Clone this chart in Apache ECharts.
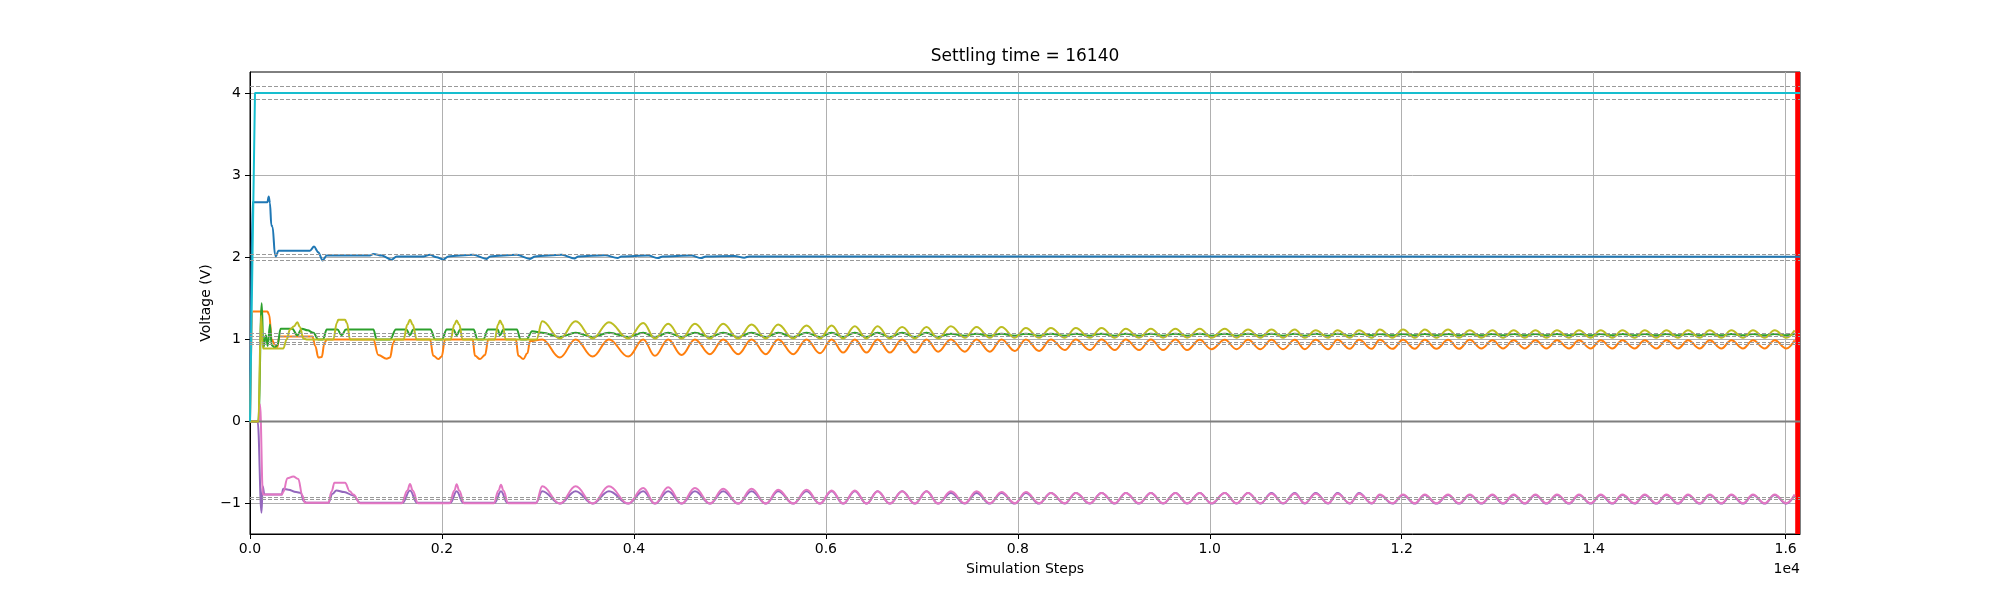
<!DOCTYPE html>
<html>
<head>
<meta charset="utf-8">
<title>Settling time</title>
<script src="https://cdn.jsdelivr.net/npm/echarts@6/dist/echarts.min.js"></script>
<style>
    html, body { margin: 0; padding: 0; background: #fff; }
    #main { width: 2000px; height: 600px; }
</style>
</head>
<body>
<div id="main"></div>
<script type="text/javascript">
    var FONT = '"DejaVu Sans", sans-serif';

    // axis ticks as drawn
    var xTicks = [0, 2000, 4000, 6000, 8000, 10000, 12000, 14000, 16000];
    var yTicks = [-1, 0, 1, 2, 3, 4];
    var settlingStep = 16140;

    // +/-2% bands round each target (grey dashed)
    var bandLevels = [4.08, 3.92, 2.04, 1.96, 1.08, 1.04, 0.97, 0.935, -0.92, -0.955];

    // start-up transient, read point by point: [step, volts]
    var cyanLine = [[0, 0], [52, 4.0], [16150, 4.0]];
    var grayLine = [[0, 0], [16150, 0]];
    var blueLine = [[0, 0], [25, 2.67], [181, 2.67], [195, 2.74], [208, 2.66], [222, 2.39], [236, 2.37],
        [260, 2.03], [271, 2.01], [295, 2.08], [625, 2.08], [667, 2.13], [712, 2.06], [757, 1.96], [799, 2.02],
        [1250, 2.02], [1285, 2.04], [1372, 2.02], [1476, 1.97], [1528, 2.01], [1806, 2.01], [1876, 2.03],
        [1945, 2.0], [2014, 1.97], [2066, 2.01], [2327, 2.03], [2466, 1.98], [2501, 2.01], [2779, 2.03],
        [2918, 1.98], [2970, 2.01], [3250, 2.03], [3380, 1.985], [3420, 2.01], [3700, 2.025], [3830, 1.99],
        [3870, 2.01], [4150, 2.02], [4250, 1.99], [4300, 2.01], [4600, 2.02], [4700, 1.99], [4750, 2.01],
        [5050, 2.015], [5150, 1.995], [5200, 2.01], [16150, 2.005]];

    var orangeHead = [[0, 0], [30, 1.34], [181, 1.34], [200, 1.30], [226, 1.0], [260, 0.935], [285, 0.906],
        [306, 1.036], [650, 1.036], [680, 0.92], [712, 0.78], [747, 0.785], [775, 0.95], [799, 1.0],
        [1285, 1.0], [1337, 0.81], [1424, 0.765], [1459, 0.78], [1493, 0.955], [1511, 1.0],
        [1876, 1.0], [1910, 0.80], [1962, 0.76], [1997, 0.79], [2032, 1.0], [2320, 1.0], [2344, 0.80],
        [2397, 0.76], [2449, 0.81], [2483, 1.0], [2770, 1.0], [2796, 0.80], [2848, 0.76], [2890, 0.83], [2918, 0.98]];
    var greenHead = [[0, 0], [87, 0], [122, 1.44], [139, 0.90], [165, 1.05], [185, 0.92], [208, 1.18],
        [226, 0.93], [260, 0.90], [285, 0.93], [320, 1.13], [440, 1.13], [493, 1.05], [540, 1.13], [600, 1.11],
        [660, 1.08], [712, 1.0], [760, 1.0], [800, 1.12], [910, 1.12], [955, 1.05], [1000, 1.12], [1285, 1.12],
        [1320, 1.0], [1460, 1.0], [1520, 1.12], [1630, 1.12], [1667, 1.05], [1700, 1.12], [1880, 1.12],
        [1930, 1.0], [2000, 1.0], [2050, 1.12], [2120, 1.12], [2153, 1.05], [2190, 1.12], [2330, 1.12],
        [2370, 1.0], [2430, 1.0], [2480, 1.12], [2580, 1.12], [2605, 1.05], [2640, 1.12], [2780, 1.12],
        [2820, 1.0], [2880, 1.0], [2940, 1.10]];
    var oliveHead = [[0, 0], [87, 0], [115, 1.29], [135, 0.89], [347, 0.89], [382, 1.0], [417, 1.12],
        [460, 1.16], [493, 1.21], [520, 1.15], [556, 1.01], [590, 1.0], [868, 1.0], [905, 1.20], [920, 1.24],
        [990, 1.24], [1010, 1.20], [1042, 1.0], [1600, 1.0], [1640, 1.18], [1667, 1.24], [1695, 1.18],
        [1737, 1.0], [2090, 1.0], [2130, 1.18], [2153, 1.23], [2180, 1.18], [2215, 1.0], [2550, 1.0],
        [2585, 1.18], [2605, 1.23], [2630, 1.18], [2665, 1.0], [2985, 1.0]];
    var pinkHead = [[0, 0], [90, 0], [104, 0.21], [135, -0.89], [330, -0.89], [347, -0.86], [390, -0.69],
        [451, -0.67], [503, -0.70], [545, -0.90], [573, -0.99], [816, -0.99], [851, -0.85], [880, -0.745],
        [990, -0.745], [1040, -0.85], [1077, -0.89], [1146, -0.995], [1580, -0.995], [1640, -0.84],
        [1667, -0.76], [1695, -0.84], [1750, -0.995], [2080, -0.995], [2130, -0.84], [2153, -0.765],
        [2180, -0.84], [2230, -0.995], [2540, -0.995], [2590, -0.84], [2615, -0.77], [2640, -0.84],
        [2690, -0.995], [2980, -0.995]];
    var purpleHead = [[0, 0], [80, 0], [120, -1.11], [132, -0.79], [150, -0.89], [330, -0.89], [347, -0.82],
        [400, -0.83], [480, -0.86], [530, -0.87], [560, -0.97], [590, -0.99], [816, -0.99], [860, -0.88],
        [900, -0.84], [980, -0.86], [1077, -0.90], [1146, -0.99], [1590, -0.99], [1667, -0.84], [1740, -0.99],
        [2090, -0.99], [2153, -0.85], [2220, -0.99], [2550, -0.99], [2615, -0.85], [2680, -0.99], [2980, -0.99]];

    // after ~3000 steps the channels ring together: crest steps and trough steps
    var ringPeakSteps = [3045, 3393, 3740, 4097, 4357, 4636, 4930, 5226, 5503, 5799, 6060, 6302, 6539, 6795,
        7049, 7302, 7570, 7830, 8084, 8344, 8604, 8872, 9125, 9386, 9643, 9896, 10157, 10399, 10643, 10886,
        11104, 11331, 11556, 11771, 12014, 12240, 12483, 12709, 12945, 13167, 13393, 13618, 13847, 14073,
        14299, 14532, 14758, 14983, 15209, 15435, 15660, 15886, 16094];
    var ringDipSteps = [3229, 3570, 3941, 4219, 4497, 4792, 5087, 5375, 5660, 5938, 6180, 6424, 6667, 6927,
        7170, 7448, 7709, 7969, 8222, 8490, 8750, 9011, 9264, 9514, 9764, 10018, 10279, 10528, 10764, 10990,
        11233, 11459, 11688, 11904, 12136, 12362, 12597, 12830, 13056, 13282, 13508, 13743, 13969, 14195,
        14427, 14653, 14879, 15105, 15331, 15556, 15782, 16008];

    var olivePeaks = [1.22, 1.22, 1.21, 1.20, 1.19, 1.19, 1.19, 1.18, 1.18, 1.17, 1.17, 1.16, 1.16, 1.15, 1.15,
        1.16, 1.15, 1.15, 1.14, 1.14, 1.14, 1.14, 1.13, 1.13, 1.13, 1.13, 1.13, 1.12, 1.12, 1.12, 1.11, 1.11, 1.11,
        1.12, 1.12, 1.12, 1.12, 1.11, 1.11, 1.11, 1.11, 1.11, 1.11, 1.11, 1.11, 1.11, 1.11, 1.11, 1.11, 1.11, 1.11, 1.11, 1.11];
    var oliveDips = [1.01, 1.01, 1.01, 1.01, 1.01, 1.01, 1.01, 1.01, 1.01, 1.01, 1.01, 1.01, 1.01, 1.01, 1.01,
        1.02, 1.02, 1.02, 1.02, 1.02, 1.02, 1.02, 1.02, 1.02, 1.02, 1.02, 1.02, 1.02, 1.02, 1.02, 1.02, 1.02,
        1.02, 1.02, 1.02, 1.02, 1.02, 1.02, 1.02, 1.02, 1.02, 1.02, 1.02, 1.02, 1.02, 1.02, 1.02, 1.02, 1.02, 1.02, 1.02, 1.02];

    var orangePeaks = [1.0, 1.0, 1.0, 1.0, 1.0, 1.0, 1.0, 1.0, 1.0, 1.0, 1.0, 1.0, 1.0, 1.0, 1.0,
        1.0, 1.0, 1.0, 1.0, 1.0, 1.0, 1.0, 1.0, 1.0, 1.0, 0.995, 0.995, 0.995, 0.995, 0.995, 0.995, 0.995, 0.995,
        0.995, 0.995, 0.995, 0.995, 0.995, 0.99, 0.99, 0.99, 0.99, 0.99, 0.99, 0.99, 0.99, 0.99, 0.99, 0.99, 0.99, 0.99, 0.99, 0.99];
    var orangeDips = [0.78, 0.79, 0.79, 0.80, 0.81, 0.82, 0.82, 0.82, 0.82, 0.83, 0.84, 0.84, 0.84, 0.84, 0.85,
        0.85, 0.85, 0.86, 0.86, 0.87, 0.87, 0.87, 0.87, 0.87, 0.87, 0.88, 0.88, 0.88, 0.88, 0.88, 0.88, 0.885,
        0.885, 0.885, 0.885, 0.885, 0.885, 0.89, 0.89, 0.89, 0.89, 0.89, 0.89, 0.89, 0.89, 0.89, 0.89, 0.89, 0.89, 0.89, 0.89, 0.89];

    var greenPeaks = [1.08, 1.08, 1.08, 1.08, 1.08, 1.08, 1.08, 1.08, 1.08, 1.08, 1.08, 1.08, 1.08, 1.08, 1.08,
        1.07, 1.07, 1.07, 1.07, 1.07, 1.07, 1.07, 1.07, 1.07, 1.07, 1.07, 1.07, 1.07, 1.07, 1.07, 1.07, 1.07, 1.07,
        1.065, 1.065, 1.065, 1.065, 1.065, 1.065, 1.065, 1.065, 1.065, 1.065, 1.065, 1.065, 1.065, 1.065, 1.065, 1.065, 1.065, 1.065, 1.065, 1.065];
    var greenDips = [1.03, 1.03, 1.03, 1.03, 1.03, 1.03, 1.03, 1.03, 1.03, 1.03, 1.03, 1.03, 1.03, 1.03, 1.03,
        1.045, 1.045, 1.045, 1.045, 1.045, 1.045, 1.045, 1.045, 1.045, 1.045, 1.045, 1.045, 1.045, 1.045, 1.045, 1.045, 1.045,
        1.05, 1.05, 1.05, 1.05, 1.05, 1.05, 1.05, 1.05, 1.05, 1.05, 1.05, 1.05, 1.05, 1.05, 1.05, 1.05, 1.05, 1.05, 1.05, 1.05];

    var pinkPeaks = [-0.79, -0.79, -0.79, -0.81, -0.80, -0.81, -0.82, -0.82, -0.83, -0.83, -0.84, -0.84, -0.85, -0.85, -0.85,
        -0.85, -0.85, -0.86, -0.86, -0.87, -0.87, -0.87, -0.87, -0.87, -0.87, -0.87, -0.87, -0.87, -0.88, -0.88, -0.88, -0.88, -0.88,
        -0.89, -0.89, -0.89, -0.89, -0.89, -0.89, -0.89, -0.89, -0.89, -0.89, -0.89, -0.89, -0.89, -0.89, -0.89, -0.89, -0.89, -0.89, -0.89, -0.89];
    var pinkDips = [-1.0, -1.0, -1.0, -1.0, -1.0, -1.0, -1.0, -1.0, -1.0, -1.0, -1.0, -1.0, -1.0, -1.0, -1.0,
        -0.995, -0.995, -0.995, -0.995, -0.995, -0.995, -0.995, -0.995, -0.995, -0.995, -0.995, -0.995, -0.995,
        -0.995, -0.995, -0.995, -0.995, -0.995, -0.995, -0.995, -0.995, -0.995, -0.995, -0.995, -0.995, -0.995,
        -0.995, -0.995, -0.995, -0.995, -0.995, -0.995, -0.995, -0.995, -0.995, -0.995, -0.995];

    var purplePeaks = [-0.85, -0.85, -0.85, -0.85, -0.85, -0.85, -0.85, -0.85, -0.85, -0.85, -0.85, -0.85, -0.85, -0.85, -0.85,
        -0.87, -0.87, -0.87, -0.87, -0.87, -0.87, -0.87, -0.87, -0.87, -0.87, -0.87, -0.87, -0.87, -0.87, -0.87, -0.87, -0.87, -0.87,
        -0.895, -0.895, -0.895, -0.895, -0.895, -0.895, -0.895, -0.895, -0.895, -0.895, -0.895, -0.895, -0.895, -0.895, -0.895, -0.895, -0.895, -0.895, -0.895, -0.895];
    var purpleDips = [-1.0, -1.0, -1.0, -1.0, -1.0, -1.0, -1.0, -1.0, -1.0, -1.0, -1.0, -1.0, -1.0, -1.0, -1.0,
        -1.0, -1.0, -1.0, -1.0, -1.0, -1.0, -1.0, -1.0, -1.0, -1.0, -1.0, -1.0, -1.0, -1.0, -1.0, -1.0, -1.0,
        -1.0, -1.0, -1.0, -1.0, -1.0, -1.0, -1.0, -1.0, -1.0, -1.0, -1.0, -1.0, -1.0, -1.0, -1.0, -1.0, -1.0, -1.0, -1.0, -1.0];

    // head + ringing tail, ordered by step
    function withRing(head, peaks, dips) {
        var tail = [];
        ringPeakSteps.forEach(function (s, i) { tail.push([s, peaks[i]]); });
        ringDipSteps.forEach(function (s, i) { tail.push([s, dips[i]]); });
        tail.sort(function (a, b) { return a[0] - b[0]; });
        return head.concat(tail);
    }

    function lineSeries(name, color, data, smooth) {
        return {
            name: name,
            type: 'line',
            data: data,
            symbol: 'none',
            smooth: smooth,
            smoothMonotone: 'x',
            clip: true,
            lineStyle: {width: 2, color: color},
            itemStyle: {color: color},
            z: 3
        };
    }

    var series = [
        lineSeries('blue', '#1f77b4', blueLine, 0.3),
        lineSeries('orange', '#ff7f0e', withRing(orangeHead, orangePeaks, orangeDips), 0.4),
        lineSeries('green', '#2ca02c', withRing(greenHead, greenPeaks, greenDips), 0.4),
        lineSeries('purple', '#9467bd', withRing(purpleHead, purplePeaks, purpleDips), 0.4),
        lineSeries('pink', '#e377c2', withRing(pinkHead, pinkPeaks, pinkDips), 0.4),
        lineSeries('gray', '#7f7f7f', grayLine, false),
        lineSeries('olive', '#bcbd22', withRing(oliveHead, olivePeaks, oliveDips), 0.4),
        lineSeries('cyan', '#17becf', cyanLine, false)
    ];

    // tolerance bands
    series[0].markLine = {
        silent: true,
        symbol: ['none', 'none'],
        label: {show: false},
        lineStyle: {color: '#999', type: [4, 2], width: 1},
        data: bandLevels.map(function (v) { return {yAxis: v}; })
    };
    // settling marker
    series[7].markArea = {
        silent: true,
        itemStyle: {color: '#ff0000', opacity: 1},
        data: [[{xAxis: 16100}, {xAxis: 16150}]]
    };

    var myChart = echarts.init(document.getElementById('main'));
    var option = {
        animation: false,
        backgroundColor: '#fff',
        grid: {
            left: 250, right: 200, top: 72, bottom: 66,
            show: true, borderColor: '#000', borderWidth: 1, backgroundColor: 'transparent'
        },
        xAxis: {
            type: 'value',
            min: 0,
            max: 16150,
            splitNumber: 8,
            axisLine: {show: true, onZero: false, lineStyle: {color: '#000', width: 1}},
            axisTick: {show: true, length: 5, customValues: xTicks, lineStyle: {color: '#000'}},
            axisLabel: {
                customValues: xTicks, margin: 8, color: '#000', fontSize: 14, fontFamily: FONT,
                formatter: function (v) { return (v / 10000).toFixed(1); }
            },
            splitLine: {show: true, lineStyle: {color: '#b0b0b0', width: 1}}
        },
        yAxis: {
            type: 'value',
            min: -1.37,
            max: 4.256,
            splitNumber: 5,
            axisLine: {show: true, lineStyle: {color: '#000', width: 1}},
            axisTick: {show: true, length: 5, customValues: yTicks, lineStyle: {color: '#000'}},
            axisLabel: {
                customValues: yTicks, margin: 9, color: '#000', fontSize: 14, fontFamily: FONT,
                formatter: function (v) { return v < 0 ? '\u2212' + Math.abs(v) : String(v); }
            },
            splitLine: {show: true, lineStyle: {color: '#b0b0b0', width: 1}}
        },
        graphic: [
            {type: 'text', x: 1025, y: 57, style: {text: 'Settling time = ' + settlingStep, font: '17px ' + FONT,
                fill: '#000', textAlign: 'center', textVerticalAlign: 'middle'}},
            {type: 'text', x: 1025, y: 569, style: {text: 'Simulation Steps', font: '14px ' + FONT,
                fill: '#000', textAlign: 'center', textVerticalAlign: 'middle'}},
            {type: 'text', x: 206, y: 303, rotation: Math.PI / 2, style: {text: 'Voltage (V)', font: '14px ' + FONT,
                fill: '#000', textAlign: 'center', textVerticalAlign: 'middle'}},
            {type: 'text', x: 1800, y: 569, style: {text: '1e4', font: '14px ' + FONT,
                fill: '#000', textAlign: 'right', textVerticalAlign: 'middle'}}
        ],
        series: series
    };
    myChart.setOption(option);
</script>
</body>
</html>
